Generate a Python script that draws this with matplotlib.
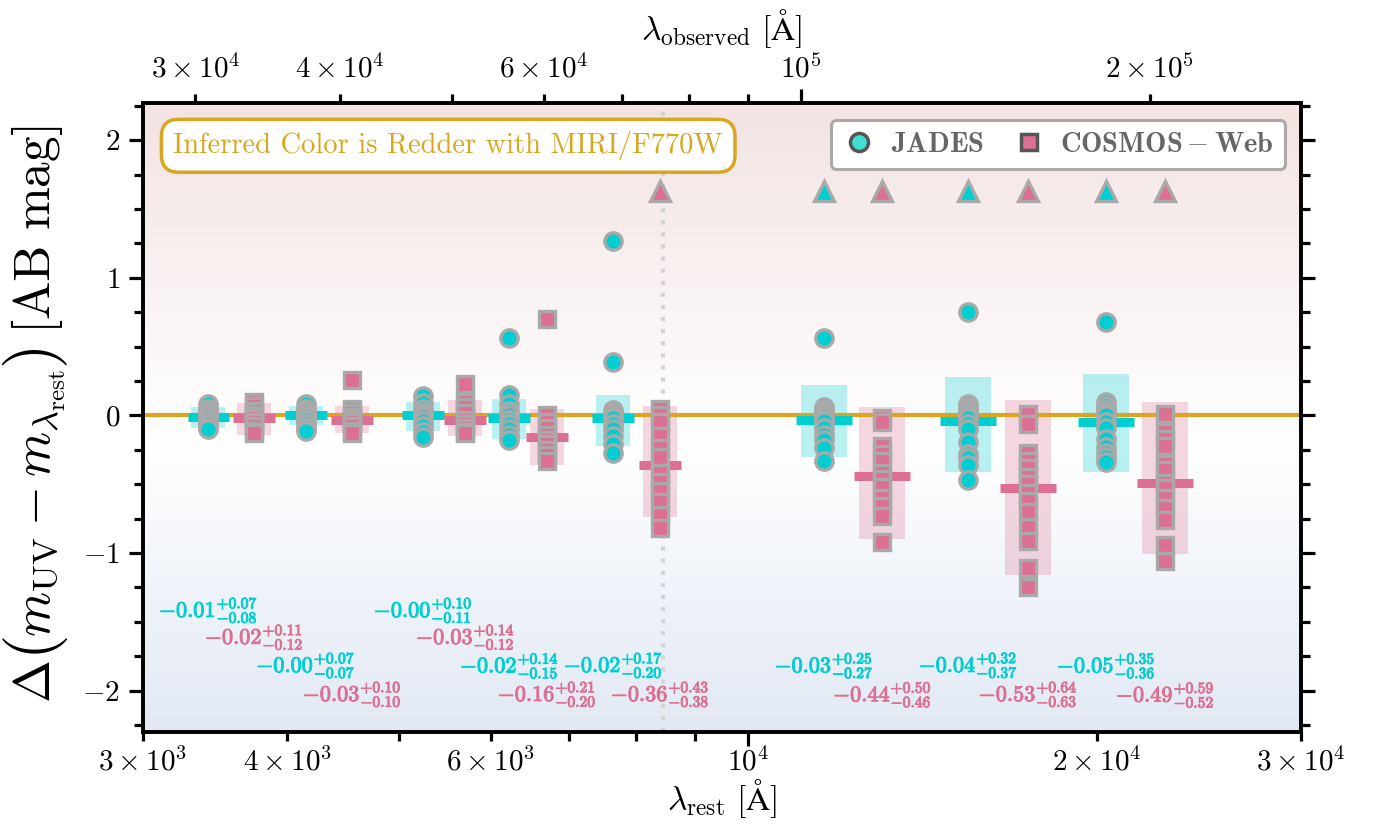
import numpy as np
import matplotlib
matplotlib.use("Agg")
import matplotlib.pyplot as plt
import matplotlib.patheffects as pe
from matplotlib.colors import LinearSegmentedColormap
from matplotlib.lines import Line2D
from matplotlib.patches import Rectangle
from matplotlib.ticker import MultipleLocator, FuncFormatter, LogLocator

plt.rcParams["mathtext.fontset"] = "cm"
plt.rcParams["mathtext.default"] = "rm"
plt.rcParams["font.family"] = "serif"
plt.rcParams["font.serif"] = ["cmr10"]
plt.rcParams["axes.unicode_minus"] = False

# ---------------- data ----------------
redshift_factor = 9.0  # 1 + z used for the observed-frame axis

lam_jades = [3420, 4150, 5240, 6220, 7650, 11630, 15490, 20380]
lam_cosmos = [3745, 4550, 5700, 6705, 8395, 13060, 17450, 22920]
lam_f770w = 8450

jades_med = [-0.01, -0.00, -0.00, -0.02, -0.02, -0.03, -0.04, -0.05]
jades_hi = [0.07, 0.07, 0.10, 0.14, 0.17, 0.25, 0.32, 0.35]
jades_lo = [0.08, 0.07, 0.11, 0.15, 0.20, 0.27, 0.37, 0.36]

cosmos_med = [-0.02, -0.03, -0.03, -0.16, -0.36, -0.44, -0.53, -0.49]
cosmos_hi = [0.11, 0.10, 0.14, 0.21, 0.43, 0.50, 0.64, 0.59]
cosmos_lo = [0.12, 0.10, 0.12, 0.20, 0.38, 0.46, 0.63, 0.52]

jades_pts = [
    [0.08, 0.05, 0.03, 0.01, 0.0, -0.02, -0.04, -0.06, -0.08, -0.10],
    [0.08, 0.05, 0.03, 0.01, 0.0, -0.01, -0.03, -0.06, -0.09, -0.11],
    [0.14, 0.09, 0.05, 0.02, 0.0, -0.01, -0.04, -0.08, -0.12, -0.16],
    [0.56, 0.15, 0.08, 0.03, 0.0, -0.03, -0.06, -0.10, -0.14, -0.18],
    [1.27, 0.39, 0.04, 0.02, 0.0, -0.02, -0.06, -0.10, -0.15, -0.21, -0.27],
    [0.56, 0.06, 0.04, 0.02, 0.0, -0.02, -0.04, -0.09, -0.14, -0.18, -0.24, -0.33],
    [0.75, 0.08, 0.06, 0.04, 0.02, 0.0, -0.02, -0.06, -0.10, -0.19, -0.28, -0.31, -0.36, -0.47],
    [0.68, 0.10, 0.07, 0.04, 0.02, 0.0, -0.05, -0.09, -0.17, -0.23, -0.27, -0.30, -0.34],
]
cosmos_pts = [
    [0.10, 0.07, 0.03, 0.0, -0.02, -0.05, -0.08, -0.11, -0.13],
    [0.26, 0.05, 0.02, -0.01, -0.03, -0.05, -0.08, -0.11, -0.13],
    [0.23, 0.10, 0.06, 0.02, -0.03, -0.06, -0.09, -0.12, -0.13],
    [0.70, 0.0, -0.05, -0.09, -0.14, -0.18, -0.21, -0.25, -0.29, -0.33],
    [0.05, 0.0, -0.05, -0.15, -0.24, -0.30, -0.42, -0.48, -0.55, -0.63, -0.72, -0.82],
    [-0.02, -0.05, -0.22, -0.28, -0.33, -0.42, -0.46, -0.52, -0.60, -0.66, -0.73, -0.92],
    [0.01, -0.06, -0.27, -0.33, -0.38, -0.45, -0.50, -0.56, -0.62, -0.70, -0.81, -0.91, -1.11, -1.25],
    [0.01, -0.12, -0.17, -0.22, -0.35, -0.40, -0.49, -0.53, -0.60, -0.67, -0.76, -0.94, -1.06],
]

# bands with sources beyond the plotted range (drawn as markers near the top)
jades_offscale = [0, 0, 0, 0, 0, 1, 1, 1]
cosmos_offscale = [0, 0, 0, 0, 1, 1, 1, 1]

# ---------------- style ----------------
C_J = "#00CED1"
C_C = "#DB7093"
EDGE = "#A9A9A9"
GOLD = "#DAA520"

W, H = 1378, 826
fig = plt.figure(figsize=(W / 100, H / 100), dpi=100)
pos = [142.5 / W, (H - 732) / H, (1300.5 - 142.5) / W, (732 - 103) / H]

# soft vertical background gradient
bg = fig.add_axes(pos, zorder=0)
cmap = LinearSegmentedColormap.from_list(
    "bgr", [(0.0, "#e2e9f4"), (0.46, "#ffffff"), (1.0, "#f3e3e3")])
bg.imshow(np.linspace(0, 1, 512).reshape(-1, 1), aspect="auto", cmap=cmap,
          origin="lower", extent=[0, 1, 0, 1])
bg.set_axis_off()

ax = fig.add_axes(pos, zorder=1)
ax.set_facecolor("none")
ax.set_xscale("log")
ax.set_xlim(3000, 30000)
ax.set_ylim(-2.30, 2.27)

ax.axhline(0, color=GOLD, lw=3, zorder=2.5)
ax.axvline(lam_f770w, color="#D3D3D3", lw=3, ls=(0, (1, 1.9)), zorder=1)


def half_width(lam):
    return 0.018 if lam < 1e4 else 0.024


def draw_band(lam, med, hi, lo, pts, color, marker, ms, offscale):
    hw = half_width(lam)
    rw = hw * 0.82
    x0, x1 = lam * 10 ** (-rw), lam * 10 ** rw
    ax.add_patch(Rectangle((x0, med - lo), x1 - x0, hi + lo, facecolor=color,
                           alpha=0.27, edgecolor="none", zorder=2))
    ax.plot([lam * 10 ** (-hw), lam * 10 ** hw], [med, med], color=color,
            lw=6.5, solid_capstyle="butt", zorder=3)
    ax.plot(np.full(len(pts), lam), pts, ls="none", marker=marker, ms=ms,
            mfc=color, mec=EDGE, mew=2.4, zorder=4)
    if offscale:
        ax.plot([lam], [1.63], ls="none", marker="^", ms=14, mfc=color,
                mec=EDGE, mew=2.4, zorder=4)


for i in range(len(lam_jades)):
    draw_band(lam_jades[i], jades_med[i], jades_hi[i], jades_lo[i],
              jades_pts[i], C_J, "o", 12.5, jades_offscale[i])
    draw_band(lam_cosmos[i], cosmos_med[i], cosmos_hi[i], cosmos_lo[i],
              cosmos_pts[i], C_C, "s", 11.5, cosmos_offscale[i])


def stat_label(med, hi, lo):
    return (r"$\mathbf{-%.2f}^{\mathbf{+%.2f}}_{\mathbf{-%.2f}}$" % (abs(med), hi, lo))


for i in range(len(lam_jades)):
    upper = i in (0, 2)
    yj, yc = (-1.415, -1.61) if upper else (-1.815, -2.025)
    for lam, y, txt, col in (
            (lam_jades[i], yj, stat_label(jades_med[i], jades_hi[i], jades_lo[i]), C_J),
            (lam_cosmos[i], yc, stat_label(cosmos_med[i], cosmos_hi[i], cosmos_lo[i]), C_C)):
        ax.text(lam, y, txt, color=col, fontsize=16, ha="center", va="center",
                zorder=5, path_effects=[pe.withStroke(linewidth=0.7, foreground=col)])

ax.text(0.264, 0.932, "Inferred Color is Redder with MIRI/F770W",
        transform=ax.transAxes, ha="center", va="center", color=GOLD,
        fontsize=20.5, zorder=6,
        bbox=dict(boxstyle="round,pad=0.42,rounding_size=0.6", fc="white",
                  ec=GOLD, lw=2.5))

handles = [
    Line2D([], [], ls="none", marker="o", ms=13, mfc="#40E0D0", mec="#555555", mew=2.5),
    Line2D([], [], ls="none", marker="s", ms=12, mfc=C_C, mec="#555555", mew=2.5),
]
leg = ax.legend(handles, [r"$\mathbf{JADES}$", r"$\mathbf{COSMOS-Web}$"],
                loc="upper right", bbox_to_anchor=(0.987, 0.973), borderaxespad=0,
                ncol=2, fontsize=20.5, handlelength=1.2, handletextpad=0.5,
                columnspacing=1.0, borderpad=0.4, fancybox=True, framealpha=1)
leg.get_frame().set_edgecolor("#A9A9A9")
leg.get_frame().set_linewidth(2.2)
leg.set_zorder(6)
for t in leg.get_texts():
    t.set_color("#666666")


def log_fmt(x, pos=None):
    e = int(np.floor(np.log10(x) + 1e-9))
    m = int(round(x / 10 ** e))
    if m == 1:
        return r"$10^{%d}$" % e
    if m in (2, 3, 4, 6):
        return r"$%d\times10^{%d}$" % (m, e)
    return ""


def style_x(a, pad):
    a.xaxis.set_major_locator(LogLocator(base=10))
    a.xaxis.set_minor_locator(LogLocator(base=10, subs=np.arange(2, 10)))
    a.xaxis.set_major_formatter(FuncFormatter(log_fmt))
    a.xaxis.set_minor_formatter(FuncFormatter(log_fmt))
    a.tick_params(axis="x", which="both", labelsize=21, width=2.3, direction="out")
    a.tick_params(axis="x", which="major", length=10, pad=pad)
    a.tick_params(axis="x", which="minor", length=6.5, pad=pad + 3.5)
    for s in a.spines.values():
        s.set_linewidth(2.6)


style_x(ax, 1)
ax.yaxis.set_major_locator(MultipleLocator(1))
ax.yaxis.set_minor_locator(MultipleLocator(0.25))
ax.yaxis.set_major_formatter(FuncFormatter(lambda v, p: r"$%d$" % round(v)))
ax.tick_params(axis="y", which="both", left=True, right=True, direction="out",
               width=2.3, labelsize=21, pad=6)
ax.tick_params(axis="y", which="major", length=10)
ax.tick_params(axis="y", which="minor", length=6.5)

ax.set_xlabel(r"$\lambda_{\rm rest}\ [\mathrm{\AA}]$", fontsize=24, labelpad=0)

ax2 = ax.twiny()
ax2.set_xscale("log")
ax2.set_xlim(3000 * redshift_factor, 30000 * redshift_factor)
style_x(ax2, 4)
ax2.tick_params(axis="x", which="both", top=True, bottom=False)
ax2.set_xlabel(r"$\lambda_{\rm observed}\ [\mathrm{\AA}]$", fontsize=24, labelpad=10)

# y label assembled from pieces so the parentheses can be enlarged
renderer = fig.canvas.get_renderer()
y_base_x = 50.0          # baseline position in pixels from the left
y_center = H - 414.0     # vertical centre of the label in display pixels
pieces = [
    (r"$\Delta$", 37, 0.0, 0.0),
    (r"$($", 47, 2.5, 0.0),
    (r"$\mathit{m}_{\rm UV}-\mathit{m}_{\lambda_{\rm rest}}$", 37, 0.0, 0.0),
    (r"$)$", 47, 2.5, 14.0),
    (r"$[\mathrm{AB\ mag}]$", 37, 0.0, 0.0),
]
label_texts = []
for s, size, dx, gap in pieces:
    t = fig.text(0, 0, s, fontsize=size, rotation=90, rotation_mode="anchor",
                 ha="left", va="baseline")
    label_texts.append((t, dx, gap))
lengths = [t.get_window_extent(renderer).height for t, _, _ in label_texts]
total = sum(lengths) + sum(g for _, _, g in label_texts)
y_cur = y_center - total / 2
for (t, dx, gap), ln in zip(label_texts, lengths):
    t.set_position(((y_base_x + dx) / W, y_cur / H))
    y_cur += ln + gap

fig.savefig("out.png", dpi=100)
